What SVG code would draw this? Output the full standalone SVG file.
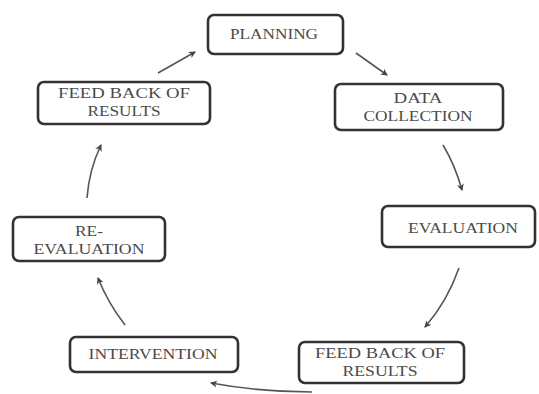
<svg xmlns="http://www.w3.org/2000/svg" width="539" height="394" viewBox="0 0 539 394">
<defs>
<marker id="ah" markerWidth="8" markerHeight="8" refX="6" refY="4" orient="auto" markerUnits="userSpaceOnUse">
<path d="M0,0.5 L7,4 L0,7.5 L2,4 Z" fill="#444"/>
</marker>
<style>
.box{fill:#fff;stroke:#333;stroke-width:2.6}
.t{font-family:"Liberation Serif","Times New Roman",serif;font-size:14.5px;fill:#4a4a4a;text-anchor:middle}
.c{fill:none;stroke:#555;stroke-width:1.6;marker-end:url(#ah)}
</style>
</defs>
<rect width="539" height="394" fill="#fff"/>
<g id="planning"><rect class="box" x="208" y="15" width="135" height="39" rx="6"/><text class="t" x="274" y="39" textLength="88" lengthAdjust="spacingAndGlyphs">PLANNING</text></g>
<g id="data-collection"><rect class="box" x="335" y="84" width="168" height="46" rx="6"/><text class="t" x="418" y="103" textLength="49" lengthAdjust="spacingAndGlyphs">DATA</text><text class="t" x="418" y="120.5" textLength="109" lengthAdjust="spacingAndGlyphs">COLLECTION</text></g>
<g id="evaluation"><rect class="box" x="382" y="206" width="153" height="41" rx="6"/><text class="t" x="463" y="232.5" textLength="110" lengthAdjust="spacingAndGlyphs">EVALUATION</text></g>
<g id="feedback-bottom"><rect class="box" x="299" y="342" width="165" height="41" rx="6"/><text class="t" x="380" y="358" textLength="130" lengthAdjust="spacingAndGlyphs">FEED BACK OF</text><text class="t" x="380" y="376" textLength="75" lengthAdjust="spacingAndGlyphs">RESULTS</text></g>
<g id="intervention"><rect class="box" x="70" y="337" width="168" height="35" rx="6"/><text class="t" x="153" y="358.5" textLength="129" lengthAdjust="spacingAndGlyphs">INTERVENTION</text></g>
<g id="re-evaluation"><rect class="box" x="13" y="217" width="152" height="44" rx="6"/><text class="t" x="89" y="236" textLength="28" lengthAdjust="spacingAndGlyphs">RE-</text><text class="t" x="89" y="253.5" textLength="111" lengthAdjust="spacingAndGlyphs">EVALUATION</text></g>
<g id="feedback-top"><rect class="box" x="38" y="82" width="172" height="42" rx="6"/><text class="t" x="124" y="98" textLength="132" lengthAdjust="spacingAndGlyphs">FEED BACK OF</text><text class="t" x="124" y="116" textLength="73" lengthAdjust="spacingAndGlyphs">RESULTS</text></g>
<g id="connectors">
<path class="c" d="M158,73 L195,52"/>
<path class="c" d="M356,53 L387,75"/>
<path class="c" d="M443,145 Q455,165 462,190"/>
<path class="c" d="M459,268 Q447,302 425,327"/>
<path class="c" d="M312,392 Q260,392 211,383"/>
<path class="c" d="M125,325 Q108,303 98,278"/>
<path class="c" d="M87,198 Q89,170 101,145"/>
</g>
</svg>
